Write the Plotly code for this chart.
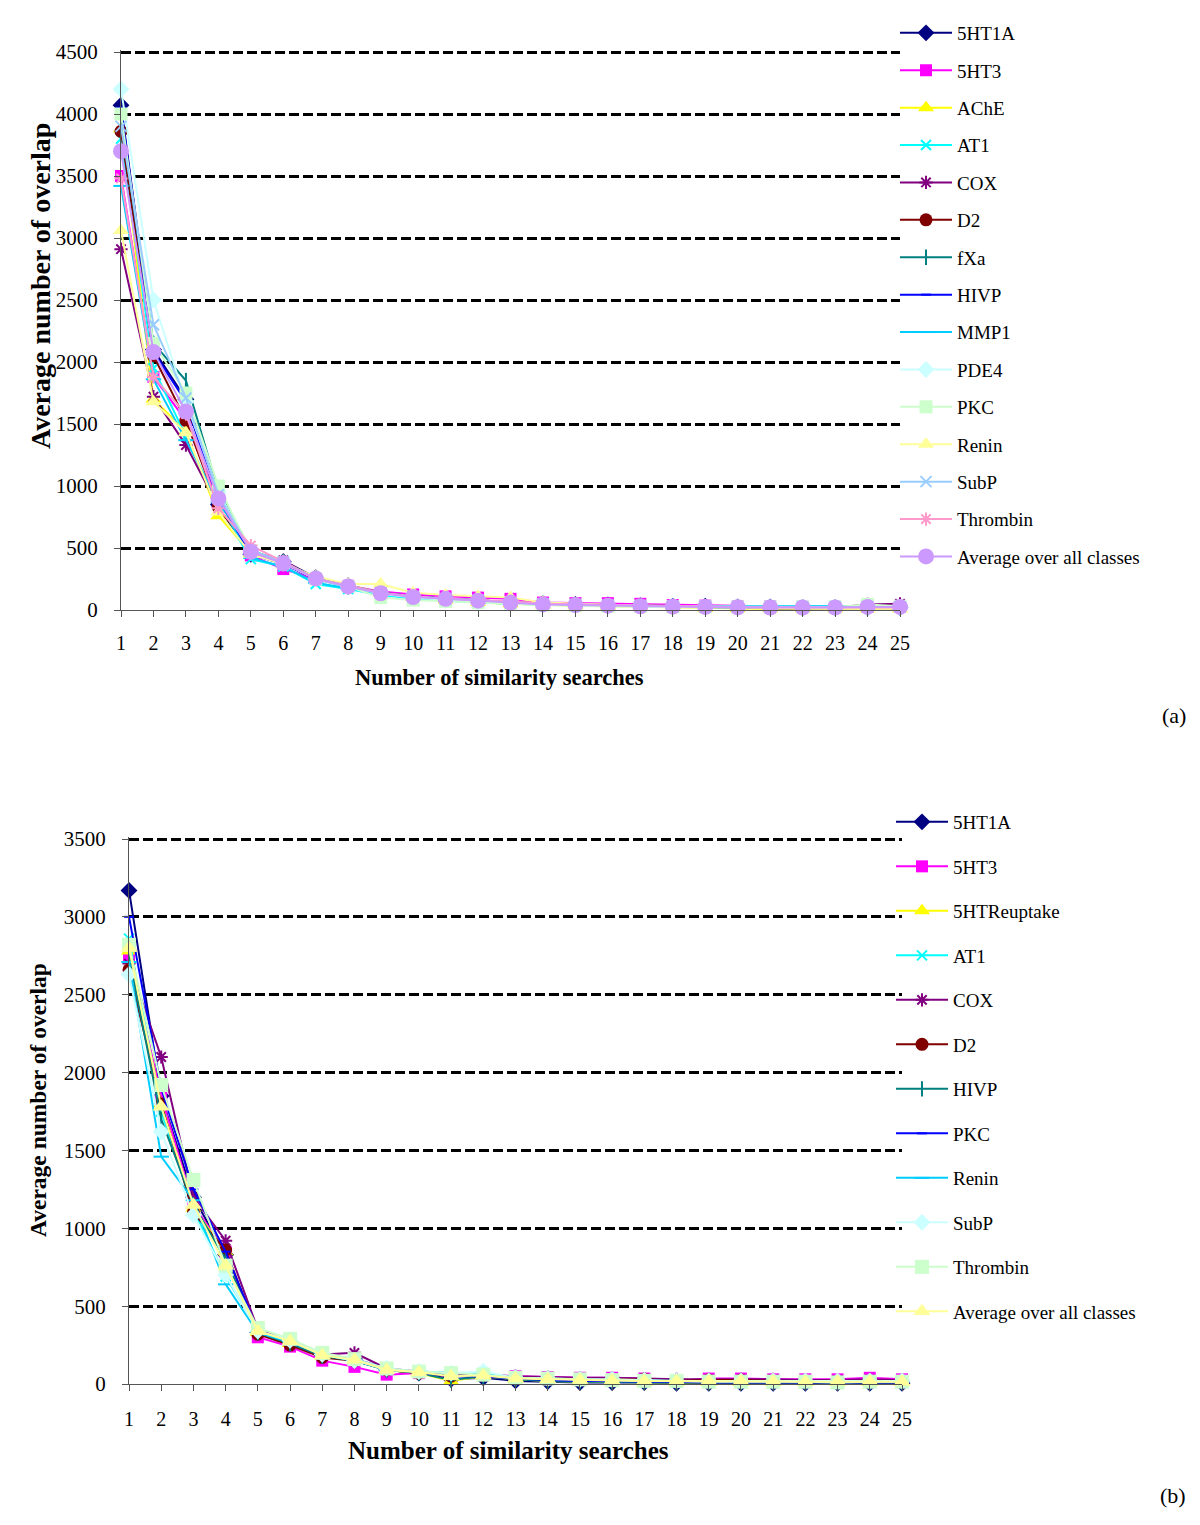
import plotly.graph_objects as go

searches = list(range(1, 26))

# ---- panel (a) ----
names_a = ["5HT1A", "5HT3", "AChE", "AT1", "COX", "D2", "fXa", "HIVP", "MMP1",
           "PDE4", "PKC", "Renin", "SubP", "Thrombin", "Average over all classes"]
a_5ht1a = [4070, 2100, 1700, 850, 450, 390, 260, 190, 140, 110, 90, 80, 60, 50, 45, 40, 35, 30, 30, 25, 25, 20, 20, 20, 20]
a_5ht3 = [3500, 1880, 1530, 860, 440, 330, 250, 195, 150, 125, 110, 100, 90, 60, 55, 55, 50, 40, 35, 30, 30, 25, 25, 25, 25]
a_ache = [3880, 1700, 1440, 760, 460, 380, 260, 200, 140, 100, 80, 60, 50, 40, 35, 30, 25, 20, 15, 10, 10, 10, 10, 10, 10]
a_at1 = [3800, 1950, 1400, 850, 410, 350, 210, 170, 120, 90, 75, 60, 50, 45, 40, 35, 30, 30, 30, 30, 30, 30, 30, 30, 30]
a_cox = [2910, 1720, 1330, 830, 470, 400, 260, 190, 140, 110, 90, 75, 60, 50, 45, 40, 35, 30, 25, 25, 25, 20, 20, 45, 50]
a_d2 = [3860, 2050, 1530, 830, 460, 380, 250, 190, 140, 110, 90, 75, 60, 50, 45, 40, 35, 30, 25, 25, 20, 20, 20, 20, 20]
a_fxa = [3950, 2150, 1850, 960, 480, 390, 260, 200, 140, 100, 85, 70, 55, 45, 40, 35, 30, 25, 25, 20, 20, 20, 20, 20, 20]
a_hivp = [4050, 2080, 1680, 880, 450, 370, 250, 190, 140, 110, 90, 75, 60, 50, 40, 35, 30, 25, 20, 20, 15, 15, 15, 15, 15]
a_mmp1 = [3420, 1860, 1370, 870, 420, 350, 220, 175, 130, 100, 85, 70, 55, 45, 40, 35, 30, 30, 30, 30, 30, 30, 30, 30, 30]
a_pde4 = [4200, 2500, 1680, 950, 470, 380, 250, 190, 130, 100, 80, 65, 50, 40, 35, 30, 25, 25, 20, 20, 20, 20, 20, 20, 20]
a_pkc = [4000, 2150, 1750, 1000, 480, 380, 250, 190, 100, 80, 70, 60, 50, 40, 35, 30, 30, 25, 25, 25, 25, 25, 25, 45, 30]
a_renin = [3060, 1680, 1430, 790, 450, 370, 270, 210, 210, 140, 120, 110, 100, 60, 50, 40, 35, 30, 25, 20, 15, 10, 10, 10, 10]
a_subp = [3900, 2300, 1710, 930, 480, 390, 250, 190, 140, 110, 90, 80, 60, 50, 45, 40, 35, 30, 30, 25, 25, 25, 25, 25, 25]
a_thrombin = [3480, 1880, 1580, 820, 520, 390, 250, 200, 140, 110, 90, 80, 70, 50, 45, 40, 35, 30, 25, 20, 20, 20, 20, 20, 20]
a_average = [3700, 2080, 1600, 900, 470, 375, 255, 190, 135, 105, 90, 75, 60, 45, 40, 35, 30, 28, 25, 22, 20, 20, 20, 25, 25]
series_a = [a_5ht1a, a_5ht3, a_ache, a_at1, a_cox, a_d2, a_fxa, a_hivp, a_mmp1,
            a_pde4, a_pkc, a_renin, a_subp, a_thrombin, a_average]

# ---- panel (b) ----
names_b = ["5HT1A", "5HT3", "5HTReuptake", "AT1", "COX", "D2", "HIVP", "PKC",
           "Renin", "SubP", "Thrombin", "Average over all classes"]
b_5ht1a = [3170, 1850, 1200, 830, 330, 270, 180, 160, 90, 70, 30, 40, 20, 15, 10, 10, 10, 5, 5, 5, 5, 5, 5, 5, 5]
b_5ht3 = [2750, 1850, 1150, 850, 300, 240, 150, 110, 60, 70, 50, 60, 50, 45, 40, 40, 35, 20, 35, 35, 30, 30, 30, 40, 30]
b_5htr = [2780, 1800, 1130, 850, 330, 260, 180, 160, 90, 70, 20, 50, 30, 20, 15, 15, 10, 10, 10, 10, 10, 10, 10, 10, 10]
b_at1 = [2860, 1750, 1120, 690, 350, 270, 190, 150, 90, 80, 70, 70, 40, 30, 25, 25, 20, 20, 20, 20, 20, 20, 20, 20, 20]
b_cox = [2700, 2100, 1200, 920, 350, 270, 190, 200, 100, 80, 60, 60, 50, 45, 40, 40, 35, 30, 30, 30, 30, 25, 25, 30, 25]
b_d2 = [2660, 1800, 1100, 860, 320, 250, 170, 150, 90, 70, 50, 55, 40, 35, 30, 30, 30, 20, 25, 25, 20, 20, 20, 20, 20]
b_hivp = [2750, 1700, 1150, 800, 330, 260, 180, 150, 90, 70, 25, 50, 30, 20, 15, 15, 10, 10, 10, 10, 10, 10, 10, 10, 10]
b_pkc = [3000, 1900, 1250, 850, 340, 270, 190, 160, 100, 75, 50, 50, 35, 25, 20, 20, 15, 15, 10, 10, 10, 10, 10, 10, 10]
b_renin = [2710, 1460, 1180, 640, 330, 270, 190, 150, 90, 80, 70, 70, 40, 35, 30, 25, 25, 20, 20, 20, 20, 20, 20, 20, 20]
b_subp = [2630, 1620, 1085, 700, 340, 280, 190, 150, 100, 80, 70, 80, 40, 35, 30, 30, 25, 20, 20, 20, 20, 20, 20, 20, 20]
b_thrombin = [2820, 1920, 1310, 760, 360, 290, 200, 160, 100, 80, 70, 60, 40, 35, 30, 25, 20, 20, 15, 15, 15, 15, 10, 15, 15]
b_average = [2800, 1780, 1150, 760, 340, 275, 185, 155, 90, 75, 50, 55, 35, 30, 25, 22, 20, 18, 18, 18, 16, 15, 15, 16, 15]
series_b = [b_5ht1a, b_5ht3, b_5htr, b_at1, b_cox, b_d2, b_hivp, b_pkc,
            b_renin, b_subp, b_thrombin, b_average]

# excel-like styles: (colour, symbol, size)
style_a = [
    ("#000080", "diamond", 13), ("#FF00FF", "square", 12), ("#FFFF00", "triangle-up", 14),
    ("#00FFFF", "x-thin-open", 10), ("#800080", "asterisk-open", 11), ("#800000", "circle", 13),
    ("#008080", "line-ns-open", 11), ("#0000FF", "line-ew-open", 7), ("#00CCFF", "line-ew-open", 11),
    ("#CCFFFF", "diamond", 13), ("#CCFFCC", "square", 13), ("#FFFF99", "triangle-up", 14),
    ("#99CCFF", "x-thin-open", 11), ("#FF99CC", "asterisk-open", 11), ("#CC99FF", "circle", 16),
]
style_b = [
    ("#000080", "diamond", 13), ("#FF00FF", "square", 12), ("#FFFF00", "triangle-up", 14),
    ("#00FFFF", "x-thin-open", 10), ("#800080", "asterisk-open", 11), ("#800000", "circle", 13),
    ("#008080", "line-ns-open", 11), ("#0000FF", "line-ew-open", 7), ("#00CCFF", "line-ew-open", 11),
    ("#CCFFFF", "diamond", 13), ("#CCFFCC", "square", 14), ("#FFFF99", "triangle-up", 15),
]

FONT = "Liberation Serif"
fig = go.Figure()


def add_series(names, series, styles, xa, ya, legend):
    for i, (name, vals, (col, sym, size)) in enumerate(zip(names, series, styles)):
        open_sym = sym.endswith("open")
        fig.add_trace(go.Scatter(
            x=searches, y=vals, name=name, mode="lines+markers",
            xaxis=xa, yaxis=ya, legend=legend, legendgroup=f"{legend}_{i}",
            line=dict(color=col, width=2),
            marker=dict(symbol=sym, size=size, color=col,
                        line=dict(color=col, width=2 if open_sym else 0)),
            cliponaxis=False,
        ))


add_series(names_a, series_a, style_a, "x", "y", "legend")
add_series(names_b, series_b, style_b, "x2", "y2", "legend2")

W, H = 1200, 1525
OFF = 8  # page body margin shifts the figure by this much


def px(x):
    return (x - OFF) / W


def py(y):
    return 1 - (y - OFF) / H


xcommon = dict(tickmode="array", tickvals=searches, ticks="outside", ticklen=6,
               tickcolor="#555", showline=True, linecolor="#555", linewidth=1,
               showgrid=False, zeroline=False,
               tickfont=dict(family=FONT, size=20, color="black"))
ycommon = dict(ticks="outside", ticklen=6, tickcolor="#555", showline=True,
               linecolor="#555", linewidth=1, showgrid=True, gridcolor="black",
               griddash="10px,4px", gridwidth=3, zeroline=False, ticklabelstandoff=12,
               tickvals=[0, 500, 1000, 1500, 2000, 2500, 3000, 3500, 4000, 4500],
               tickfont=dict(family=FONT, size=21, color="black"))


def tfont(size):
    return dict(family=FONT, size=size, color="black", weight="bold")


# pixel frame of each panel, used only to size the domains
top_a, bot_a, max_a = 52, 610, 4500
top_b, bot_b, max_b = 839, 1384, 3500
ra = [0, 4520]
rb = [0, 3515]
ya_top = bot_a - (bot_a - top_a) * ra[1] / max_a
yb_top = bot_b - (bot_b - top_b) * rb[1] / max_b


def label(text, x, y, size, angle=0, bold=True, anchor="center"):
    return dict(text=text, x=px(x), y=py(y), xref="paper", yref="paper",
                xanchor=anchor, yanchor="middle", showarrow=False, textangle=angle,
                font=tfont(size) if bold else dict(family=FONT, size=size, color="black"))


legend_font = dict(family=FONT, size=19, color="black")

fig.update_layout(
    width=W, height=H, margin=dict(l=0, r=0, t=0, b=0, autoexpand=False),
    paper_bgcolor="white", plot_bgcolor="white",
    xaxis=dict(domain=[px(121), px(900)], range=[1, 25], anchor="y",
               ticklabelstandoff=9, **xcommon),
    yaxis=dict(domain=[py(bot_a), py(ya_top)], range=ra, anchor="x", **ycommon),
    xaxis2=dict(domain=[px(129), px(902)], range=[1, 25], anchor="y2",
                ticklabelstandoff=11, **xcommon),
    yaxis2=dict(domain=[py(bot_b), py(yb_top)], range=rb, anchor="x2", **ycommon),
    legend=dict(x=px(895), xanchor="left", y=py(14), yanchor="top",
                font=legend_font, itemwidth=52,
                tracegroupgap=9.7, bgcolor="rgba(0,0,0,0)"),
    legend2=dict(x=px(891), xanchor="left", y=py(803), yanchor="top",
                 font=legend_font, itemwidth=52,
                 tracegroupgap=16.8, bgcolor="rgba(0,0,0,0)"),
    annotations=[
        label("Number of similarity searches", 500, 677, 22.5),
        label("Average number of overlap", 40, 286, 28, angle=-90),
        label("Number of similarity searches", 508, 1450, 25),
        label("Average number of overlap", 38, 1100, 23.5, angle=-90),
        label("(a)", 1188, 715, 22, bold=False, anchor="right"),
        label("(b)", 1188, 1495, 22, bold=False, anchor="right"),
    ],
)

fig.write_html("out.html")
